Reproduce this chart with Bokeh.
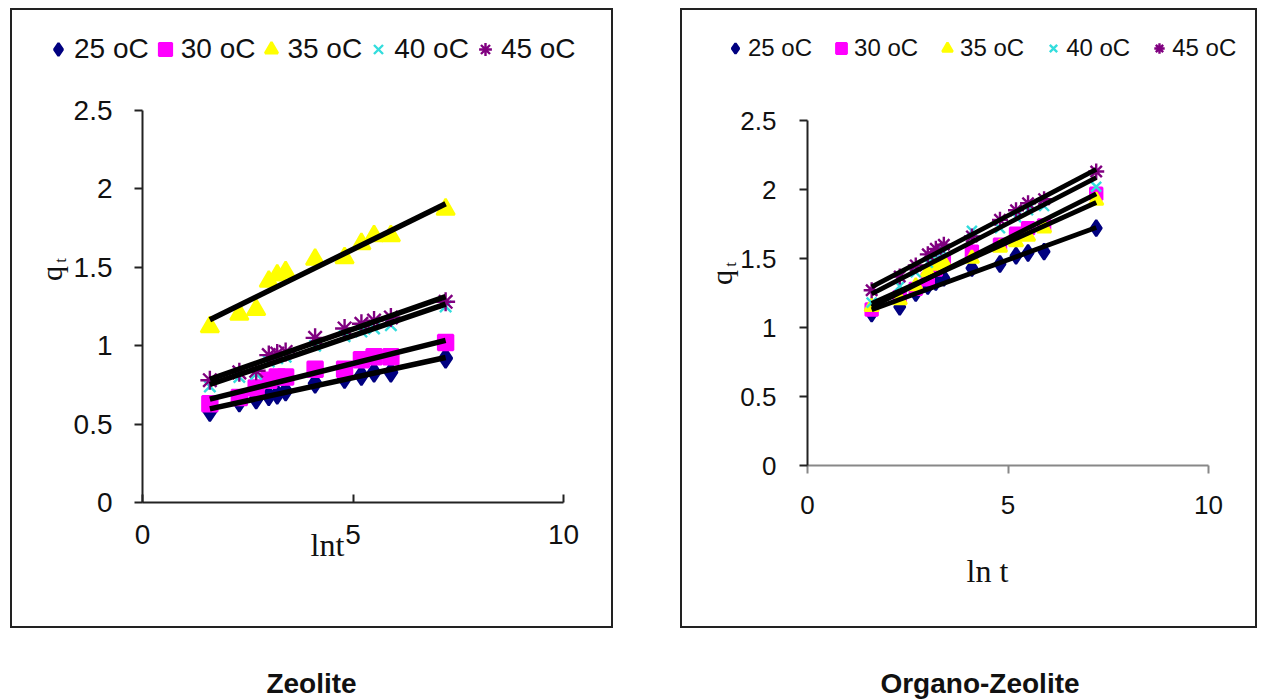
import numpy as np
from bokeh.plotting import figure
from bokeh.models import (Range1d, FixedTicker, Legend, LegendItem, Label, Div,
                          Spacer, LinearAxis)
from bokeh.layouts import row, column
from bokeh.embed import file_html
from bokeh.resources import INLINE

# ---- data -------------------------------------------------------------
ln_t = [1.6, 2.3, 2.7, 3.0, 3.2, 3.4, 4.1, 4.8, 5.2, 5.5, 5.9, 7.2]
temps = ["25 oC", "30 oC", "35 oC", "40 oC", "45 oC"]

zeo_25 = [0.58, 0.64, 0.66, 0.68, 0.69, 0.71, 0.76, 0.79, 0.81, 0.83, 0.83, 0.92]
zeo_30 = [0.63, 0.67, 0.73, 0.78, 0.80, 0.80, 0.85, 0.85, 0.91, 0.93, 0.93, 1.02]
zeo_35 = [1.12, 1.20, 1.23, 1.41, 1.45, 1.47, 1.55, 1.56, 1.65, 1.70, 1.70, 1.87]
zeo_40 = [0.74, 0.80, 0.82, 0.90, 0.92, 0.93, 1.00, 1.06, 1.09, 1.11, 1.13, 1.25]
zeo_45 = [0.78, 0.83, 0.84, 0.94, 0.95, 0.96, 1.05, 1.11, 1.14, 1.16, 1.18, 1.28]

org_25 = [1.10, 1.15, 1.25, 1.30, 1.33, 1.36, 1.43, 1.46, 1.52, 1.54, 1.55, 1.72]
org_30 = [1.13, 1.22, 1.28, 1.35, 1.42, 1.48, 1.55, 1.60, 1.68, 1.72, 1.74, 1.97]
org_35 = [1.15, 1.20, 1.30, 1.40, 1.45, 1.47, 1.50, 1.58, 1.62, 1.66, 1.72, 1.92]
org_40 = [1.18, 1.30, 1.40, 1.47, 1.52, 1.55, 1.70, 1.72, 1.80, 1.85, 1.88, 2.02]
org_45 = [1.27, 1.37, 1.45, 1.53, 1.57, 1.60, 1.66, 1.78, 1.85, 1.90, 1.93, 2.13]

x_ticks = [0, 5, 10]
y_ticks = [0, 0.5, 1, 1.5, 2, 2.5]
panel_titles = ["Zeolite", "Organo-Zeolite"]

markers = ["diamond", "square", "triangle", "x", "asterisk"]
colors = ["#000080", "#FF00FF", "#FFFF00", "#33DDDD", "#800080"]

SANS = "Liberation Sans"
SERIF = "Liberation Serif"


def make_panel(series, box, ax_px, tick_size, tick_standoff_x, tick_standoff_y,
               msizes, lw, leg_font, leg_glyph, leg_spacing, leg_left, leg_bottom,
               xlab, xlab_px, q_px, xtick_in, xaxis_color):
    bl, bt, br, bb = box                 # box in page pixels
    px0, px10, py0, py25 = ax_px         # where the axes' ends sit
    sx = (px10 - px0) / 10.0
    sy = (py0 - py25) / 2.5

    def dx(px):
        return (px - px0) / sx

    def dy(py):
        return (py0 - py) / sy

    W, H = br - bl, bb - bt
    p = figure(width=W, height=H, title=None,
               x_range=Range1d(dx(bl), dx(br)), y_range=Range1d(dy(bb), dy(bt)),
               x_axis_location=None, y_axis_location=None,
               min_border=0, output_backend="svg", toolbar_location=None)
    p.outline_line_color = "#222"
    p.outline_line_width = 3
    p.xgrid.visible = False
    p.ygrid.visible = False
    p.background_fill_color = "white"
    p.border_fill_color = "white"

    xa = LinearAxis(fixed_location=0, bounds=(0, 10),
                    ticker=FixedTicker(ticks=x_ticks))
    ya = LinearAxis(fixed_location=0, bounds=(0, 2.5),
                    ticker=FixedTicker(ticks=y_ticks))
    for ax in (xa, ya):
        ax.minor_tick_line_color = None
        ax.major_label_text_font = SANS
        ax.major_label_text_font_size = tick_size
        ax.major_label_text_color = "#111"
        ax.axis_line_width = 2
        ax.major_tick_line_width = 2
    ya.axis_line_color = "#222"
    ya.major_tick_line_color = "#222"
    xa.axis_line_color = xaxis_color
    xa.major_tick_line_color = xaxis_color
    ya.major_tick_in = 0
    ya.major_tick_out = 8
    ya.major_label_standoff = tick_standoff_y
    if xtick_in:
        xa.major_tick_in = 8
        xa.major_tick_out = 0
    else:
        xa.major_tick_in = 0
        xa.major_tick_out = 8
    xa.major_label_standoff = tick_standoff_x
    p.add_layout(xa, "below")
    p.add_layout(ya, "left")

    items = []
    for ys, mk, col, ms, lab in zip(series, markers, colors, msizes, temps):
        r = p.scatter(ln_t, ys, marker=mk, size=ms, fill_color=col,
                      line_color=col, line_width=2.4)
        items.append(LegendItem(label=lab, renderers=[r]))

    for ys in series:
        k, b = np.polyfit(ln_t, ys, 1)
        xs = [ln_t[0], ln_t[-1]]
        p.line(xs, [k * xs[0] + b, k * xs[1] + b], line_color="black",
               line_width=lw)

    leg = Legend(items=items, orientation="horizontal",
                 location=(leg_left - bl, bb - leg_bottom),
                 glyph_width=leg_glyph, glyph_height=leg_glyph,
                 label_standoff=0, spacing=leg_spacing, padding=0, margin=0,
                 border_line_color=None, background_fill_alpha=0,
                 label_text_font=SANS, label_text_font_size=leg_font,
                 label_text_color="#111")
    p.add_layout(leg)

    p.add_layout(Label(x=dx(xlab_px[0]), y=dy(xlab_px[1]), text=xlab,
                       text_font=SERIF, text_font_size="32px",
                       text_align="center", text_baseline="middle",
                       text_color="#111"))
    # y axis title: q with a subscript t, rotated
    p.add_layout(Label(x=dx(q_px[0]), y=dy(q_px[1]), text="q",
                       text_font=SERIF, text_font_size="30px", angle=np.pi / 2,
                       text_align="center", text_baseline="middle",
                       text_color="#111"))
    p.add_layout(Label(x=dx(q_px[0] + 9), y=dy(q_px[1] - 13), text="t",
                       text_font=SERIF, text_font_size="17px", angle=np.pi / 2,
                       text_align="center", text_baseline="middle",
                       text_color="#111"))
    return p


p1 = make_panel([zeo_25, zeo_30, zeo_35, zeo_40, zeo_45],
                box=(10, 8, 613, 628), ax_px=(142, 563, 502, 110),
                tick_size="28px", tick_standoff_x=22, tick_standoff_y=22,
                msizes=[19, 15, 18, 16, 19], lw=5.5,
                leg_font="28px", leg_glyph=32, leg_spacing=0,
                leg_left=42, leg_bottom=65,
                xlab="lnt", xlab_px=(327, 544), q_px=(51, 273),
                xtick_in=True, xaxis_color="#222")

p2 = make_panel([org_25, org_30, org_35, org_40, org_45],
                box=(680, 8, 1257, 628), ax_px=(807, 1208, 465, 120),
                tick_size="26px", tick_standoff_x=22, tick_standoff_y=23,
                msizes=[16, 12, 14, 14, 16], lw=4.8,
                leg_font="24px", leg_glyph=26, leg_spacing=16,
                leg_left=722, leg_bottom=62,
                xlab="ln t", xlab_px=(987, 570), q_px=(721, 277),
                xtick_in=False, xaxis_color="#888")


def title_div(txt, w):
    html = ('<div style="width:%dpx;text-align:center;padding-top:42px;'
            'font-family:\'Liberation Sans\',Arial,sans-serif;font-weight:bold;'
            'font-size:28px;line-height:28px;color:#111">%s</div>' % (w, txt))
    return Div(text=html, width=w, height=56, margin=0)


top = row(Spacer(width=10, height=620), p1, Spacer(width=67, height=620), p2,
          spacing=0)
bottom = row(Spacer(width=10, height=56), title_div(panel_titles[0], 603),
             Spacer(width=147, height=56), title_div(panel_titles[1], 440),
             spacing=0)
layout = column(Spacer(width=10, height=8), top, bottom, spacing=0)

open("out.html", "w").write(file_html(layout, INLINE))
